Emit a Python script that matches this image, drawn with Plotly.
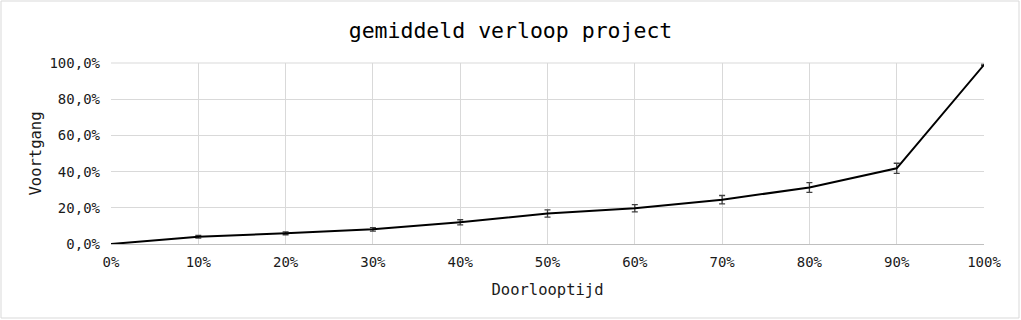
import plotly.graph_objects as go

x_vals = [0, 0.1, 0.2, 0.3, 0.4, 0.5, 0.6, 0.7, 0.8, 0.9, 1.0]
y_vals = [0.0, 0.040, 0.059, 0.081, 0.120, 0.168, 0.198, 0.245, 0.312, 0.418, 0.990]
err_vals = [0.0, 0.008, 0.008, 0.010, 0.014, 0.020, 0.020, 0.023, 0.027, 0.028, 0.004]
x_ticks = [0, 0.1, 0.2, 0.3, 0.4, 0.5, 0.6, 0.7, 0.8, 0.9, 1.0]
y_ticks = [0, 0.2, 0.4, 0.6, 0.8, 1.0]

W, H = 1021, 320
L, R, T, B = 111, 37, 63, 76
pw, ph = W - L - R, H - T - B

font = "DejaVu Sans Mono"

fig = go.Figure()
fig.add_trace(go.Scatter(
    x=x_vals, y=y_vals, mode="lines",
    line=dict(color="black", width=2),
    error_y=dict(type="data", array=err_vals, visible=True,
                 color="#404040", thickness=1.3, width=3),
    cliponaxis=False, showlegend=False,
))

def px2x(p):
    return (p - L) / pw

def py2y(p):
    return (H - B - p) / ph

fig.update_layout(
    width=W, height=H,
    margin=dict(l=L, r=R, t=T, b=B),
    paper_bgcolor="white", plot_bgcolor="white",
    separators=",.",
    font=dict(family=font, size=14, color="#1a1a1a"),
    title=dict(text="gemiddeld verloop project", x=0.5, xanchor="center",
               y=1 - 30 / H, yanchor="middle",
               font=dict(family=font, size=21.5, color="black")),
    xaxis=dict(range=[0, 1], tickvals=x_ticks, tickformat=".0%",
               showgrid=True, gridcolor="#d9d9d9", gridwidth=1,
               showline=True, linecolor="#bfbfbf", linewidth=1,
               zeroline=False, ticks="", ticklen=0, ticklabelstandoff=5,
               title=dict(text="Doorlooptijd", standoff=15,
                          font=dict(family=font, size=15.5, color="#1a1a1a")),
               fixedrange=True),
    yaxis=dict(range=[0, 1.0], tickvals=y_ticks, tickformat=".1%",
               showgrid=True, gridcolor="#d9d9d9", gridwidth=1,
               showline=False, zeroline=False, ticks="", ticklabelstandoff=10,
               title=dict(text="Voortgang", standoff=3,
                          font=dict(family=font, size=15.5, color="#1a1a1a")),
               fixedrange=True),
    shapes=[
        dict(type="rect", xref="paper", yref="paper",
             x0=px2x(1), x1=px2x(W - 2), y0=py2y(H - 2), y1=py2y(1),
             line=dict(color="#d9d9d9", width=1), fillcolor="rgba(0,0,0,0)",
             layer="below"),
        dict(type="line", xref="paper", yref="paper",
             x0=0, x1=1, y0=1, y1=1,
             line=dict(color="#d9d9d9", width=1)),
    ],
)

fig.write_html("out.html")
